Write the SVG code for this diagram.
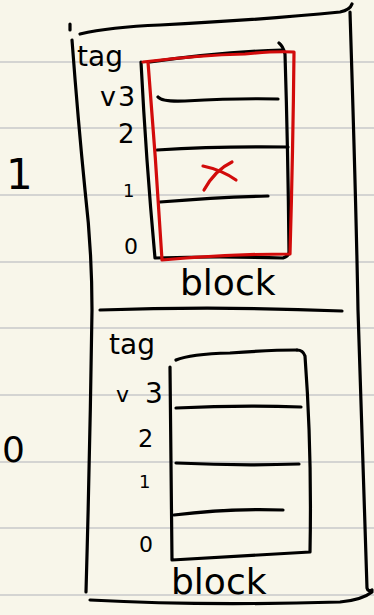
<svg xmlns="http://www.w3.org/2000/svg" width="374" height="615" viewBox="0 0 374 615">
<style>
.ink{fill:none;stroke:#000;stroke-width:3.2;stroke-linecap:round;stroke-linejoin:round}
.red{fill:none;stroke:#d20b0b;stroke-width:3.2;stroke-linecap:round;stroke-linejoin:round}
.rule{stroke:#d4d4d2;stroke-width:2}
.t{font-family:"DejaVu Sans",sans-serif;fill:#000}
</style>
<rect width="374" height="615" fill="#f8f6ea"/>
<g id="paper-rules">
<line class="rule" x1="0" y1="62" x2="374" y2="62"/>
<line class="rule" x1="0" y1="128" x2="374" y2="128"/>
<line class="rule" x1="0" y1="195" x2="374" y2="195"/>
<line class="rule" x1="0" y1="262" x2="374" y2="262"/>
<line class="rule" x1="0" y1="328" x2="374" y2="328"/>
<line class="rule" x1="0" y1="395" x2="374" y2="395"/>
<line class="rule" x1="0" y1="462" x2="374" y2="462"/>
<line class="rule" x1="0" y1="528" x2="374" y2="528"/>
<line class="rule" x1="0" y1="595" x2="374" y2="595"/>
</g>
<g id="frame">
<path class="ink" d="M70,24 L70,30"/>
<path class="ink" d="M80,34 Q110,27 160,25 Q260,20 340,12 Q350,10 352,4"/>
<path class="ink" d="M350,12 Q356,200 358,310 Q362,450 367,588 Q368,592 372,590"/>
<path class="ink" d="M72,40 Q78,120 85,190 Q92,250 92,310 Q90,450 86,592"/>
<path class="ink" d="M90,600 Q200,606 340,602 Q362,600 372,592"/>
<path class="ink" d="M100,310 Q220,306 342,311"/>
</g>
<g id="row-1">
<text class="t" x="6" y="189" font-size="42">1</text>
<text class="t" x="77" y="66" font-size="28">tag</text>
<text class="t" x="100" y="106" font-size="27" letter-spacing="2">v3</text>
<text class="t" x="118" y="143" font-size="26">2</text>
<text class="t" x="123" y="197" font-size="18">1</text>
<text class="t" x="124" y="254" font-size="22">0</text>
<g id="block-1">
<path class="ink" d="M141,62 Q146,160 155,258 Q220,256 283,258 Q289,256 289,252 Q288,150 285,54 Q283,46 279,43"/>
<path class="ink" d="M150,62 Q220,52 282,50"/>
<path class="ink" d="M158,97 Q162,102 185,101 Q240,98 278,99"/>
<path class="ink" d="M157,150 Q220,146 288,147"/>
<path class="ink" d="M160,202 Q220,197 268,196"/>
</g>
<g id="red-mark">
<path class="red" d="M143,62 Q200,55 245,54 Q275,51 294,52 Q293,150 290,254 Q230,254 162,260 Q156,160 148,62"/>
<path class="red" d="M204,190 Q215,170 232,162"/>
<path class="red" d="M203,166 Q222,170 236,180"/>
</g>
<text class="t" x="180" y="295" font-size="36">block</text>
</g>
<g id="row-0">
<text class="t" x="2" y="462" font-size="36">0</text>
<text class="t" x="109" y="354" font-size="28">tag</text>
<text class="t" x="116" y="402" font-size="22">v</text>
<text class="t" x="145" y="403" font-size="28">3</text>
<text class="t" x="138" y="447" font-size="24">2</text>
<text class="t" x="139" y="488" font-size="18">1</text>
<text class="t" x="139" y="552" font-size="22">0</text>
<g id="block-0">
<path class="ink" d="M170,367 Q171,460 172,560 Q240,556 310,552 Q312,450 305,356 Q303,350 297,350"/>
<path class="ink" d="M176,360 Q190,354 230,353 Q270,350 297,350"/>
<path class="ink" d="M176,408 Q240,405 301,407"/>
<path class="ink" d="M176,463 Q240,466 299,464"/>
<path class="ink" d="M174,515 Q230,508 283,510"/>
</g>
<text class="t" x="171" y="594" font-size="36">block</text>
</g>
</svg>
